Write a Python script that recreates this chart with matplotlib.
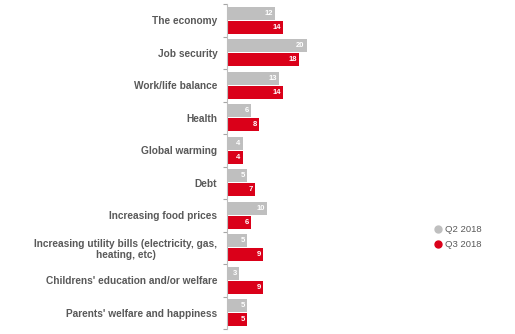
import matplotlib
matplotlib.use("Agg")
import matplotlib.pyplot as plt
from matplotlib.lines import Line2D
import numpy as np

# dados
categorias = [
    "The economy",
    "Job security",
    "Work/life balance",
    "Health",
    "Global warming",
    "Debt",
    "Increasing food prices",
    "Increasing utility bills (electricity, gas,\nheating, etc)",
    "Childrens' education and/or welfare",
    "Parents' welfare and happiness",
]
q2_2018 = [12, 20, 13, 6, 4, 5, 10, 5, 3, 5]
q3_2018 = [14, 18, 14, 8, 4, 7, 6, 9, 9, 5]
series = ["Q2 2018", "Q3 2018"]

COR_CINZA = "#BFBFBF"
COR_VERMELHO = "#DA0019"
COR_TEXTO = "#595959"

plt.rcParams["font.family"] = ["Liberation Sans", "DejaVu Sans"]

fig = plt.figure(figsize=(5.15, 3.34), dpi=100)
ax = fig.add_axes([227 / 515, 5 / 334, 300 / 515, 325 / 334])

y = np.arange(len(categorias))
off = 0.21
h = 0.40
b1 = ax.barh(y - off, q2_2018, height=h, color=COR_CINZA, label=series[0])
b2 = ax.barh(y + off, q3_2018, height=h, color=COR_VERMELHO, label=series[1])

# valores dentro das barras
for barras, vals in ((b1, q2_2018), (b2, q3_2018)):
    for r, v in zip(barras, vals):
        ax.text(r.get_width() - 0.6, r.get_y() + r.get_height() / 2, str(v),
                ha="right", va="center", color="white", fontsize=5.5,
                fontweight="bold")

ax.set_xlim(0, 75)
ax.set_ylim(len(categorias) - 0.5, -0.5)

ax.set_yticks(y)
ax.set_yticklabels(categorias, fontsize=7.3, fontweight="bold",
                   color=COR_TEXTO, multialignment="center")
ax.tick_params(axis="y", which="major", length=0, pad=7)
ax.set_yticks(np.arange(-0.5, len(categorias)), minor=True)
ax.tick_params(axis="y", which="minor", length=3, color="#A6A6A6", width=0.8)
ax.set_xticks([])

for s in ("top", "right", "bottom"):
    ax.spines[s].set_visible(False)
ax.spines["left"].set_color("#BFBFBF")
ax.spines["left"].set_linewidth(0.8)

handles = [Line2D([], [], marker="o", ls="", color=COR_CINZA, markersize=5),
           Line2D([], [], marker="o", ls="", color=COR_VERMELHO, markersize=5)]
fig.legend(handles, series, loc="upper left", bbox_to_anchor=(425 / 515, 1 - 217 / 334),
           frameon=False, fontsize=6.8, labelcolor=COR_TEXTO, handletextpad=0.2,
           labelspacing=0.6, handlelength=1.0)

fig.savefig("out.png", dpi=100)
